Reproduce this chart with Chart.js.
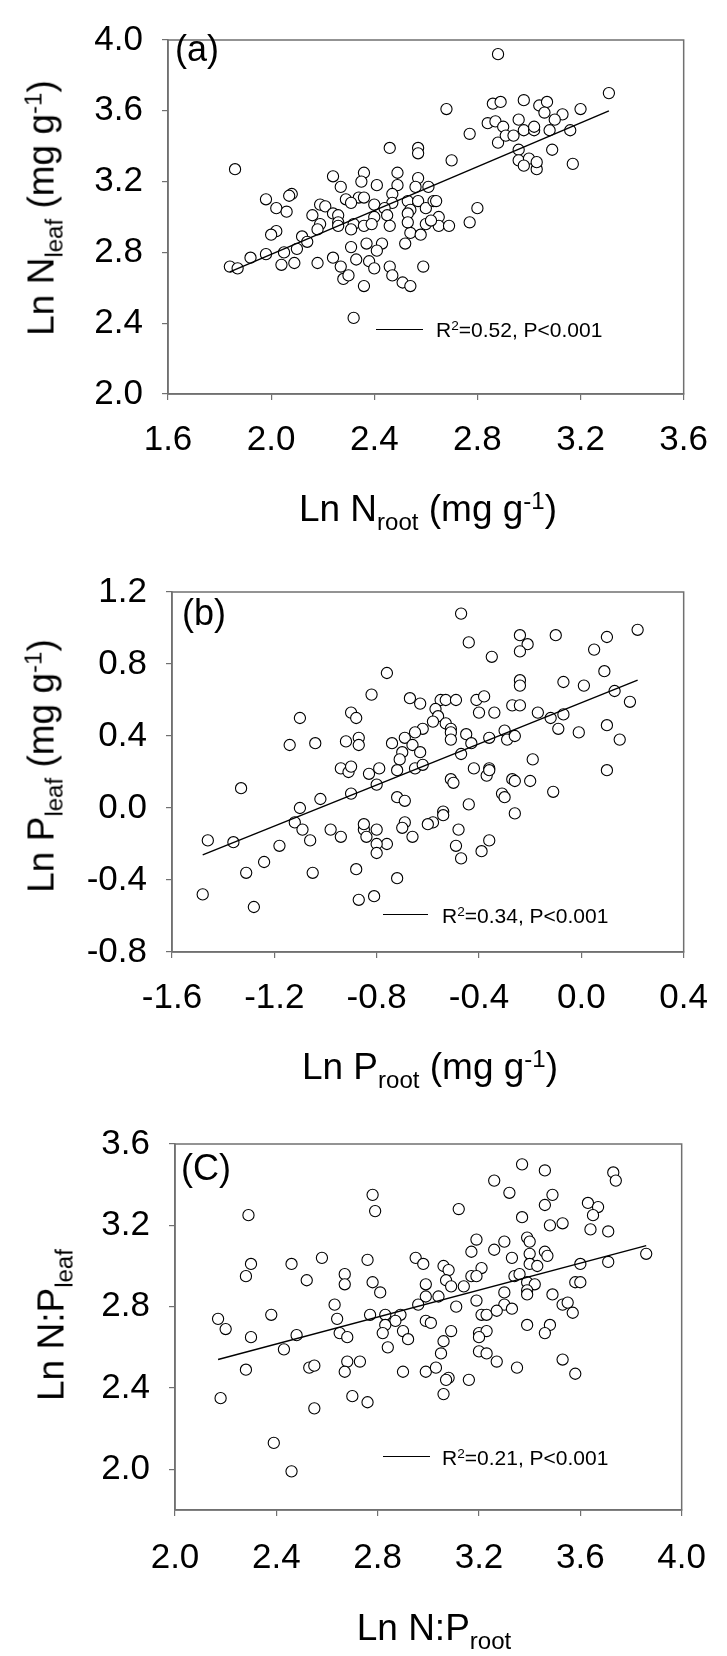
<!DOCTYPE html>
<html>
<head>
<meta charset="utf-8">
<script src="https://cdn.jsdelivr.net/npm/chart.js@4.4.1/dist/chart.umd.min.js"></script>
<style>
  body { margin: 0; width: 727px; height: 1656px; background: #fff; position: relative; overflow: hidden;
         font-family: 'Liberation Sans', Arial, sans-serif; color: #000; }
  canvas { position: absolute; left: 0; }
  .t { position: absolute; white-space: nowrap; line-height: 1; }
  .sub { font-size: 65%; position: relative; top: 0.38em; }
  .sup { font-size: 65%; position: relative; top: -0.5em; }
  .xt { font-size: 37px; transform: translateX(-50%); }
  .yt { font-size: 37px; transform: translate(-50%, -50%) rotate(-90deg); }
  .lab { font-size: 36px; }
  .leg { font-size: 21px; }
  .legline { position: absolute; height: 0; border-top: 1.5px solid #000; }
</style>
</head>
<body>
<canvas id="panel-a" width="727" height="552" style="top:0px"></canvas>
<canvas id="panel-b" width="727" height="552" style="top:552px"></canvas>
<canvas id="panel-c" width="727" height="552" style="top:1104px"></canvas>

<!-- Panel (a) -->
<div class="t yt" style="left:41px; top:208px">Ln N<span class="sub">leaf</span> (mg g<span class="sup">-1</span>)</div>
<div class="t xt" style="left:428px; top:490px">Ln N<span class="sub">root</span> (mg g<span class="sup">-1</span>)</div>
<div class="t lab" style="left:175px; top:31px">(a)</div>
<div class="legline" style="left:376px; width:47px; top:329px"></div>
<div class="t leg" style="left:436px; top:319px">R<span class="sup">2</span>=0.52, P&lt;0.001</div>

<!-- Panel (b) -->
<div class="t yt" style="left:41px; top:766px">Ln P<span class="sub">leaf</span> (mg g<span class="sup">-1</span>)</div>
<div class="t xt" style="left:430px; top:1048px">Ln P<span class="sub">root</span> (mg g<span class="sup">-1</span>)</div>
<div class="t lab" style="left:182px; top:595px">(b)</div>
<div class="legline" style="left:383px; width:45px; top:914px"></div>
<div class="t leg" style="left:442px; top:905px">R<span class="sup">2</span>=0.34, P&lt;0.001</div>

<!-- Panel (C) -->
<div class="t yt" style="left:51px; top:1325px">Ln N:P<span class="sub">leaf</span></div>
<div class="t xt" style="left:434px; top:1609px">Ln N:P<span class="sub">root</span></div>
<div class="t lab" style="left:181px; top:1150px">(C)</div>
<div class="legline" style="left:383px; width:47px; top:1456px"></div>
<div class="t leg" style="left:442px; top:1447px">R<span class="sup">2</span>=0.21, P&lt;0.001</div>

<script>
// Datos: (a) N raíz vs N hoja
const nRoot = [2.88, 3.31, 2.68, 2.86, 2.89, 2.98, 3.04, 3.07, 3.06, 3.13, 3.20, 2.84, 2.87, 2.90, 2.96, 2.98,
  3.02, 3.02, 3.10, 3.08, 3.16, 2.77, 2.88, 2.91, 2.94, 2.96, 3.09, 2.96, 3.00, 2.98, 3.03, 3.03, 3.17, 2.70,
  2.46, 2.57, 2.57, 1.86, 2.24, 2.36, 2.49, 2.57, 2.35, 2.41, 2.27, 2.49, 2.56, 2.61, 2.08, 2.07, 1.98, 2.29,
  2.34, 2.36, 2.47, 2.47, 2.53, 2.57, 2.19, 2.21, 2.02, 2.06, 2.31, 2.40, 2.44, 2.54, 2.60, 2.63, 2.64, 2.80,
  2.16, 2.24, 2.26, 2.40, 2.45, 2.53, 2.65, 2.19, 2.26, 2.32, 2.26, 2.36, 2.39, 2.46, 2.60, 2.65, 2.69, 2.77,
  2.31, 2.18, 2.02, 2.00, 2.12, 2.14, 2.54, 2.58, 2.37, 2.43, 2.52, 2.31, 2.10, 2.05, 1.98, 1.92, 1.84, 1.87,
  2.04, 2.09, 2.18, 2.24, 2.33, 2.38, 2.41, 2.27, 2.40, 2.46, 2.59, 2.28, 2.30, 2.47, 2.51, 2.54, 2.36, 2.32,
  2.62, 2.53];
const nLeaf = [3.92, 3.70, 3.61, 3.64, 3.65, 3.66, 3.63, 3.65, 3.59, 3.58, 3.61, 3.53, 3.54, 3.51, 3.55, 3.49,
  3.49, 3.51, 3.55, 3.49, 3.49, 3.47, 3.42, 3.46, 3.46, 3.38, 3.38, 3.32, 3.33, 3.29, 3.27, 3.31, 3.30, 3.32,
  3.39, 3.39, 3.36, 3.27, 3.23, 3.25, 3.25, 3.22, 3.20, 3.18, 3.17, 3.18, 3.17, 3.17, 3.13, 3.12, 3.10, 3.10,
  3.11, 3.11, 3.13, 3.08, 3.09, 3.09, 3.07, 3.06, 3.05, 3.03, 3.08, 3.07, 3.05, 3.04, 3.05, 3.09, 3.09, 3.05,
  3.01, 3.02, 3.01, 3.00, 3.01, 3.02, 3.00, 2.96, 2.97, 2.96, 2.95, 2.95, 2.96, 2.95, 2.96, 2.95, 2.95, 2.97,
  2.93, 2.93, 2.92, 2.90, 2.89, 2.86, 2.91, 2.90, 2.85, 2.85, 2.85, 2.83, 2.82, 2.80, 2.79, 2.77, 2.72, 2.71,
  2.73, 2.74, 2.74, 2.77, 2.76, 2.75, 2.81, 2.72, 2.71, 2.72, 2.72, 2.65, 2.67, 2.67, 2.63, 2.61, 2.61, 2.43,
  2.98, 2.97];
const nFitX = [1.84, 3.31];
const nFitY = [2.69, 3.60];
const nRootTicks = [1.6, 2.0, 2.4, 2.8, 3.2, 3.6];
const nLeafTicks = [2.0, 2.4, 2.8, 3.2, 3.6, 4.0];

// (b) P raíz vs P hoja
const pRoot = [-0.47, 0.22, -0.24, -0.10, 0.10, -0.44, -0.21, -0.24, 0.05, -0.35, -0.76, 0.09, -0.24, -0.24,
  -0.07, 0.01, 0.13, -0.82, -0.67, -0.63, -0.55, -0.53, -0.49, -0.41, -0.38, -0.40, -0.34, -0.27, -0.24, -0.17,
  -0.12, -0.07, 0.19, -0.90, -0.88, -1.10, -0.57, -0.56, -0.58, -0.53, -0.51, -0.51, -0.62, -0.65, -0.45, -0.30,
  -0.29, -0.26, -0.36, -0.09, -0.01, 0.10, 0.15, 0.10, -0.11, -1.14, -1.04, -0.92, -0.87, -0.87, -0.74, -0.69,
  -0.66, -0.70, -0.63, -0.71, -0.72, -0.65, -0.62, -0.51, -0.47, -0.43, -0.42, -0.36, -0.37, -0.36, -0.19, -0.20,
  -0.27, -0.26, -0.51, -0.50, -0.31, -0.30, -0.44, -0.54, -0.54, -0.58, -0.60, -0.26, -0.94, -0.91, -0.90, -0.83,
  -0.79, -0.80, -0.90, -0.72, -0.69, -1.02, -1.10, -1.12, -1.09, -0.98, -0.94, -0.85, -0.85, -0.80, -0.84, -0.76,
  -0.80, -0.80, -0.69, -0.70, -0.66, -0.49, -0.47, -0.48, -0.39, -0.36, -1.06, -1.18, -1.36, -1.46, -1.24, -1.31,
  -1.33, -1.05, -0.88, -0.72, -0.87, -0.81, -1.28, -1.48];
const pLeaf = [1.08, 0.99, 0.96, 0.96, 0.95, 0.92, 0.91, 0.87, 0.88, 0.84, 0.75, 0.76, 0.71, 0.68,
  0.70, 0.68, 0.65, 0.63, 0.61, 0.58, 0.60, 0.60, 0.60, 0.60, 0.62, 0.53, 0.53, 0.57, 0.57, 0.53,
  0.50, 0.52, 0.59, 0.53, 0.50, 0.50, 0.55, 0.51, 0.48, 0.47, 0.44, 0.42, 0.44, 0.42, 0.41, 0.43,
  0.38, 0.40, 0.39, 0.44, 0.42, 0.46, 0.38, 0.21, 0.09, 0.35, 0.36, 0.37, 0.39, 0.35, 0.36, 0.39,
  0.35, 0.31, 0.31, 0.27, 0.21, 0.22, 0.24, 0.38, 0.30, 0.36, 0.22, 0.22, 0.18, 0.21, 0.27, 0.15,
  0.16, 0.15, 0.16, 0.14, 0.08, 0.06, 0.02, -0.02, -0.04, -0.08, -0.09, -0.03, 0.22, 0.20, 0.23, 0.19,
  0.22, 0.13, 0.08, 0.06, 0.04, 0.05, 0.00, -0.08, -0.12, -0.12, -0.16, -0.12, -0.09, -0.12, -0.16, -0.20,
  -0.20, -0.25, -0.08, -0.11, -0.16, -0.21, -0.28, -0.12, -0.24, -0.18, -0.18, -0.21, -0.19, -0.18, -0.30, -0.36,
  0.11, -0.36, -0.34, -0.39, -0.51, -0.49, -0.55, -0.48];
const pFitX = [-1.48, 0.22];
const pFitY = [-0.26, 0.71];
const pRootTicks = [-1.6, -1.2, -0.8, -0.4, 0.0, 0.4];
const pLeafTicks = [-0.8, -0.4, 0.0, 0.4, 0.8, 1.2];

// (C) N:P raíz vs N:P hoja
const npRoot = [3.37, 3.46, 3.73, 3.74, 3.26, 3.32, 2.78, 3.49, 3.46, 3.63, 3.67, 3.65, 3.37, 2.79, 2.29, 3.12,
  3.48, 3.53, 3.64, 3.71, 3.19, 3.39, 3.40, 3.30, 3.26, 3.17, 3.46, 3.47, 3.40, 3.86, 3.33, 2.58, 2.95, 2.98,
  2.76, 3.60, 3.71, 3.40, 3.43, 2.30, 2.46, 3.06, 3.08, 3.21, 2.28, 2.67, 2.67, 2.52, 3.17, 3.19, 3.34, 3.36,
  3.07, 2.99, 2.78, 3.39, 3.42, 3.39, 3.39, 3.49, 3.58, 3.60, 3.09, 3.14, 3.30, 2.81, 2.99, 3.04, 3.19, 2.63,
  2.96, 3.11, 3.30, 3.33, 3.53, 3.55, 3.57, 3.21, 3.23, 3.27, 2.77, 2.83, 2.89, 2.87, 2.83, 2.64, 2.38, 2.17,
  2.20, 2.99, 3.01, 3.39, 3.48, 2.65, 2.68, 2.82, 2.90, 2.92, 3.09, 3.20, 3.23, 3.20, 3.46, 2.30, 2.48, 2.84,
  3.06, 2.43, 3.20, 3.23, 3.05, 3.27, 3.53, 2.53, 2.55, 2.68, 2.73, 2.67, 2.90, 2.99, 3.03, 3.35, 3.58, 2.28,
  3.08, 3.07, 3.16, 3.06, 2.70, 2.76, 2.55, 2.18, 2.39, 2.46];
const npLeaf = [3.50, 3.47, 3.46, 3.42, 3.42, 3.36, 3.35, 3.35, 3.30, 3.31, 3.29, 3.25, 3.24, 3.27, 3.25, 3.28,
  3.20, 3.21, 3.18, 3.17, 3.13, 3.14, 3.12, 3.12, 3.08, 3.07, 3.07, 3.05, 3.06, 3.06, 3.04, 3.04, 3.04, 3.01,
  3.03, 3.01, 3.02, 3.01, 3.00, 3.01, 3.01, 3.00, 2.98, 2.99, 2.95, 2.96, 2.91, 2.93, 2.95, 2.95, 2.95, 2.96,
  2.93, 2.91, 2.92, 2.92, 2.91, 2.88, 2.86, 2.86, 2.92, 2.92, 2.90, 2.90, 2.87, 2.87, 2.85, 2.85, 2.83, 2.81,
  2.81, 2.80, 2.81, 2.79, 2.81, 2.82, 2.77, 2.76, 2.76, 2.78, 2.76, 2.76, 2.76, 2.73, 2.71, 2.74, 2.76, 2.74,
  2.69, 2.73, 2.72, 2.71, 2.71, 2.67, 2.65, 2.67, 2.68, 2.64, 2.68, 2.67, 2.68, 2.65, 2.67, 2.65, 2.66, 2.60,
  2.63, 2.59, 2.58, 2.57, 2.57, 2.53, 2.54, 2.50, 2.51, 2.53, 2.53, 2.48, 2.48, 2.48, 2.50, 2.50, 2.47, 2.49,
  2.45, 2.44, 2.44, 2.37, 2.36, 2.33, 2.30, 2.35, 2.13, 1.99];
const npFitX = [2.17, 3.86];
const npFitY = [2.54, 3.10];
const npRootTicks = [2.0, 2.4, 2.8, 3.2, 3.6, 4.0];
const npLeafTicks = [2.0, 2.4, 2.8, 3.2, 3.6];

const GRIS = '#707070';
const FUENTE = { family: "'Liberation Sans', Arial, sans-serif", size: 35 };

// Marco completo alrededor del área del gráfico
const marco = {
  id: 'marco',
  beforeDatasetsDraw(chart) {
    const { ctx, chartArea: a } = chart;
    ctx.save();
    ctx.strokeStyle = GRIS;
    ctx.lineWidth = 1.5;
    ctx.strokeRect(a.left, a.top, a.right - a.left, a.bottom - a.top);
    ctx.restore();
  }
};

const eje = (ticks, min, max, pad, fit) => ({
  type: 'linear',
  min, max,
  afterBuildTicks: s => { s.ticks = ticks.map(value => ({ value })); },
  afterFit: fit,
  grid: { drawOnChartArea: false, drawTicks: true, tickLength: 6, color: GRIS, lineWidth: 1.2 },
  border: { display: true, color: GRIS, width: 1.5 },
  ticks: { padding: pad, color: '#000', font: FUENTE, autoSkip: false, maxRotation: 0,
           callback: v => Number(v).toFixed(1) }
});

const crearPanel = (id, xs, ys, fitX, fitY, ticksX, ticksY, rx, ry, caja) => {
  const puntos = xs.map((x, i) => ({ x, y: ys[i] }));
  const linea = fitX.map((x, i) => ({ x, y: fitY[i] }));
  new Chart(document.getElementById(id), {
    type: 'scatter',
    data: {
      datasets: [
        { data: linea, showLine: true, borderColor: '#000', borderWidth: 1.4, pointRadius: 0, fill: false },
        { data: puntos, pointRadius: 5.6, borderWidth: 1.1, borderColor: '#000', backgroundColor: '#fff' }
      ]
    },
    options: {
      responsive: false,
      animation: false,
      events: [],
      layout: { padding: { top: caja.top, right: 727 - caja.right, bottom: 552 - caja.bottom - 70, left: 0 } },
      plugins: { legend: { display: false }, tooltip: { enabled: false } },
      scales: {
        x: { ...eje(ticksX, rx[0], rx[1], caja.pad, s => { s.height = 70; }), position: 'bottom' },
        y: { ...eje(ticksY, ry[0], ry[1], 19, s => { s.width = caja.left; }), position: 'left' }
      }
    },
    plugins: [marco]
  });
};

crearPanel('panel-a', nRoot, nLeaf, nFitX, nFitY, nRootTicks, nLeafTicks, [1.6, 3.6], [2.0, 4.0],
  { top: 23, bottom: 394, left: 168, right: 691, pad: 19 });
crearPanel('panel-b', pRoot, pLeaf, pFitX, pFitY, pRootTicks, pLeafTicks, [-1.6, 0.4], [-0.8, 1.2],
  { top: 29, bottom: 400, left: 172, right: 691, pad: 19 });
crearPanel('panel-c', npRoot, npLeaf, npFitX, npFitY, npRootTicks, npLeafTicks, [2.0, 4.0], [1.8, 3.6],
  { top: 35, bottom: 406, left: 175, right: 696, pad: 21 });
</script>
</body>
</html>
